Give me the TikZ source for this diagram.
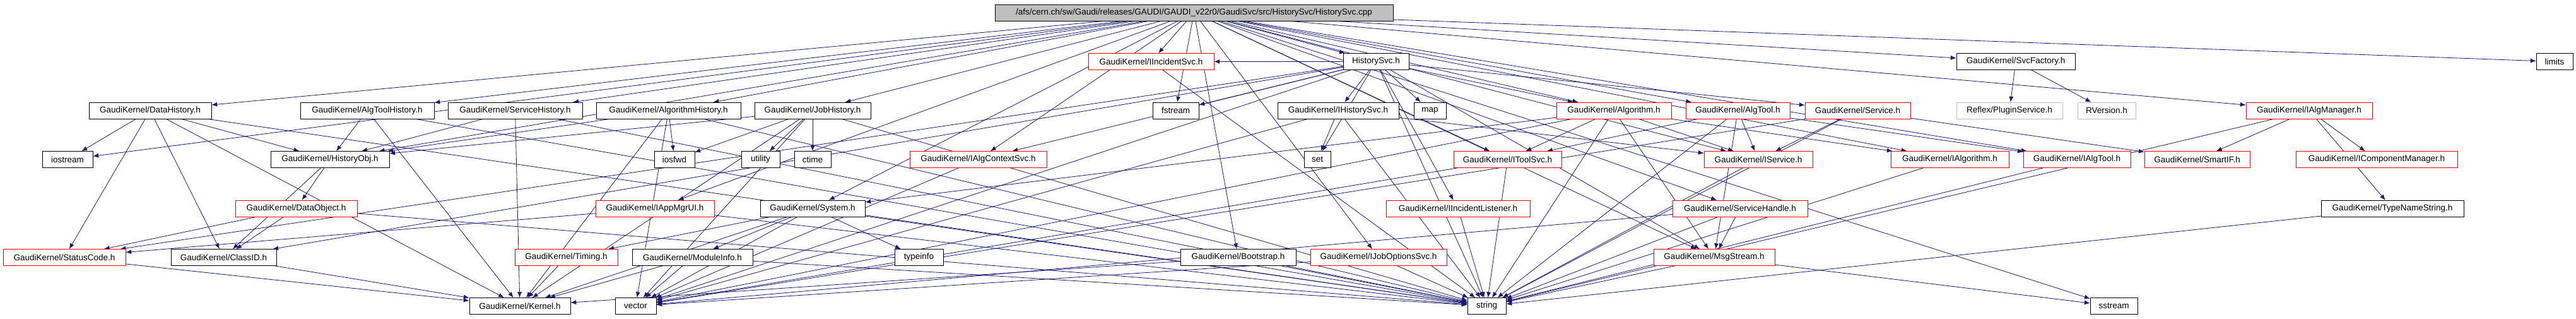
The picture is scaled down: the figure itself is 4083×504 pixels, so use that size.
\documentclass[tikz,border=0pt]{standalone}
\usepackage{fontspec}
\setmainfont{Liberation Sans}
\usetikzlibrary{arrows.meta}

\definecolor{edgeblue}{HTML}{191970}
\definecolor{rootgray}{HTML}{BFBFBF}
\pgfdeclarelayer{bg}
\pgfsetlayers{bg,main}

\tikzset{
  hdr/.style={draw=black,fill=white,rectangle,minimum height=26pt,inner xsep=3pt,inner ysep=0pt,font=\fontsize{13.5}{15}\selectfont},
  trunc/.style={hdr,draw=red},
  ext/.style={hdr,draw=rootgray},
  root/.style={hdr,fill=rootgray},
  dep/.style={draw=edgeblue,line width=0.8pt,->},
  >={Latex[length=9pt,width=7pt]}
}

\begin{document}
\begin{tikzpicture}[x=1pt,y=1pt]
                \useasboundingbox (0,0) rectangle (4083,504);
                % top
                \node[root,minimum width=631pt] (cpp) at (1892.5,484) {/afs/cern.ch/sw/Gaudi/releases/GAUDI/GAUDI\_v22r0/GaudiSvc/src/HistorySvc/HistorySvc.cpp};
                % second rank
                \node[trunc,minimum width=199pt] (iincsvc) at (1824.5,406.5) {GaudiKernel/IIncidentSvc.h};
                \node[hdr,minimum width=104pt] (hsvch) at (2181,406.5) {HistorySvc.h};
                \node[hdr,minimum width=188pt] (svcfac) at (3195,406.5) {GaudiKernel/SvcFactory.h};
                \node[hdr,minimum width=58pt] (limits) at (4049,406.5) {limits};
                % third rank
                \node[hdr,minimum width=194pt] (datahist) at (238,329) {GaudiKernel/DataHistory.h};
                \node[hdr,minimum width=212pt] (tlhist) at (582,329) {GaudiKernel/AlgToolHistory.h};
                \node[hdr,minimum width=213pt] (svchist) at (816.5,329) {GaudiKernel/ServiceHistory.h};
                \node[hdr,minimum width=229pt] (alghist) at (1059.5,329) {GaudiKernel/AlgorithmHistory.h};
                \node[hdr,minimum width=184pt] (jobhist) at (1288,329) {GaudiKernel/JobHistory.h};
                \node[hdr,minimum width=73pt] (fstream) at (1863.5,329) {fstream};
                \node[hdr,minimum width=192pt] (ihistsvc) at (2121,329) {GaudiKernel/IHistorySvc.h};
                \node[hdr,minimum width=51pt] (map) at (2266.5,329) {map};
                \node[trunc,minimum width=182pt] (algo) at (2558,329) {GaudiKernel/Algorithm.h};
                \node[trunc,minimum width=165pt] (algtool) at (2754.5,329) {GaudiKernel/AlgTool.h};
                \node[trunc,minimum width=167pt] (service) at (2944.5,329) {GaudiKernel/Service.h};
                \node[ext,minimum width=168pt] (plugin) at (3185,329) {Reflex/PluginService.h};
                \node[ext,minimum width=92pt] (rversion) at (3339,329) {RVersion.h};
                \node[trunc,minimum width=200pt] (ialgmgr) at (3660,329) {GaudiKernel/IAlgManager.h};
                % fourth rank
                \node[hdr,minimum width=80pt] (iostream) at (107,251.5) {iostream};
                \node[hdr,minimum width=188pt] (histobj) at (523,251.5) {GaudiKernel/HistoryObj.h};
                \node[hdr,minimum width=64pt] (iosfwd) at (1069,251.5) {iosfwd};
                \node[hdr,minimum width=61pt] (utility) at (1205.5,251.5) {utility};
                \node[hdr,minimum width=58pt] (ctime) at (1288,251.5) {ctime};
                \node[trunc,minimum width=217pt] (ialgctx) at (1550.5,251.5) {GaudiKernel/IAlgContextSvc.h};
                \node[hdr,minimum width=42pt] (set) at (2088,251.5) {set};
                \node[trunc,minimum width=171pt] (itoolsvc) at (2389.5,251.5) {GaudiKernel/IToolSvc.h};
                \node[trunc,minimum width=172pt] (iservice) at (2787,251.5) {GaudiKernel/IService.h};
                \node[trunc,minimum width=187pt] (ialgo) at (3090.5,251.5) {GaudiKernel/IAlgorithm.h};
                \node[trunc,minimum width=170pt] (ialgtool) at (3292,251.5) {GaudiKernel/IAlgTool.h};
                \node[trunc,minimum width=167pt] (smartif) at (3482.5,251.5) {GaudiKernel/SmartIF.h};
                \node[trunc,minimum width=256pt] (icompmgr) at (3767,251.5) {GaudiKernel/IComponentManager.h};
                % fifth rank
                \node[trunc,minimum width=193pt] (dataobj) at (469.5,174) {GaudiKernel/DataObject.h};
                \node[trunc,minimum width=188pt] (iappmgr) at (1038,174) {GaudiKernel/IAppMgrUI.h};
                \node[hdr,minimum width=166pt] (system) at (1288,174) {GaudiKernel/System.h};
                \node[trunc,minimum width=228pt] (iinclist) at (2311,174) {GaudiKernel/IIncidentListener.h};
                \node[trunc,minimum width=214pt] (svchandle) at (2758,174) {GaudiKernel/ServiceHandle.h};
                \node[hdr,minimum width=226pt] (tnstring) at (3792,174) {GaudiKernel/TypeNameString.h};
                % sixth rank
                \node[trunc,minimum width=194pt] (statcode) at (102,96.5) {GaudiKernel/StatusCode.h};
                \node[hdr,minimum width=167pt] (classid) at (354.5,96.5) {GaudiKernel/ClassID.h};
                \node[trunc,minimum width=163pt] (timing) at (897.5,96.5) {GaudiKernel/Timing.h};
                \node[hdr,minimum width=191pt] (modinfo) at (1097.5,96.5) {GaudiKernel/ModuleInfo.h};
                \node[hdr,minimum width=77pt] (typeinfo) at (1456.5,96.5) {typeinfo};
                \node[hdr,minimum width=183pt] (bootstrap) at (1962.5,96.5) {GaudiKernel/Bootstrap.h};
                \node[trunc,minimum width=216pt] (ijobopt) at (2185,96.5) {GaudiKernel/IJobOptionsSvc.h};
                \node[trunc,minimum width=192pt] (msgstream) at (2717,96.5) {GaudiKernel/MsgStream.h};
                % bottom rank
                \node[hdr,minimum width=160pt] (kernel) at (824,19.5) {GaudiKernel/Kernel.h};
                \node[hdr,minimum width=65pt] (vector) at (1007.5,19.5) {vector};
                \node[hdr,minimum width=61pt] (string) at (2356.5,19.5) {string};
                \node[hdr,minimum width=75pt] (sstream) at (3350.5,19.5) {sstream};

                \begin{pgfonlayer}{bg}
                % includes of the source file
                \foreach \t in {hsvch,datahist,tlhist,svchist,alghist,jobhist,histobj,iostream,fstream,limits,sstream,iincsvc,ialgctx,system,bootstrap,ijobopt,iappmgr,svchandle,ialgmgr,ialgo,algo,ialgtool,algtool,iservice,itoolsvc,svcfac,msgstream}
                    \draw[dep] (cpp) -- (\t);
                \foreach \t in {ihistsvc,map,set,iinclist,string,fstream,service,algo,ialgctx,classid,statcode,msgstream,vector,iincsvc}
                    \draw[dep] (hsvch) -- (\t);
                % history headers
                \foreach \t in {histobj,iostream,statcode,classid,kernel,string}
                    \draw[dep] (datahist) -- (\t);
                \foreach \t in {histobj,kernel,string}
                    \draw[dep] (tlhist) -- (\t);
                \foreach \t in {histobj,kernel,string}
                    \draw[dep] (svchist) -- (\t);
                \foreach \t in {histobj,iosfwd,kernel,vector,string}
                    \draw[dep] (alghist) -- (\t);
                \foreach \t in {histobj,iosfwd,utility,ctime,kernel,vector,string}
                    \draw[dep] (jobhist) -- (\t);
                \foreach \t in {dataobj,classid}
                    \draw[dep] (histobj) -- (\t);
                \foreach \t in {statcode,classid,string}
                    \draw[dep] (dataobj) -- (\t);
                \draw[dep] (statcode) -- (kernel);
                \draw[dep] (classid) -- (kernel);
                % interfaces and kernel
                \foreach \t in {statcode,string}
                    \draw[dep] (iappmgr) -- (\t);
                \foreach \t in {timing,modinfo,kernel,typeinfo,vector,string}
                    \draw[dep] (system) -- (\t);
                \draw[dep] (timing) -- (kernel);
                \foreach \t in {kernel,vector,string}
                    \draw[dep] (modinfo) -- (\t);
                \draw[dep] (ialgctx) -- (vector);
                \draw[dep] (iincsvc) -- (string);
                \foreach \t in {kernel,string}
                    \draw[dep] (bootstrap) -- (\t);
                \foreach \t in {string,vector}
                    \draw[dep] (ijobopt) -- (\t);
                \draw[dep] (iinclist) -- (string);
                \foreach \t in {string,vector}
                    \draw[dep] (itoolsvc) -- (\t);
                \foreach \t in {set,string,vector,iservice}
                    \draw[dep] (ihistsvc) -- (\t);
                \foreach \t in {itoolsvc,iservice,ialgo,msgstream,system,string,vector}
                    \draw[dep] (algo) -- (\t);
                \foreach \t in {ialgtool,iservice,itoolsvc,msgstream,string}
                    \draw[dep] (algtool) -- (\t);
                \foreach \t in {iservice,smartif,string,vector}
                    \draw[dep] (service) -- (\t);
                \foreach \t in {msgstream,string,vector}
                    \draw[dep] (svchandle) -- (\t);
                \foreach \t in {string,sstream}
                    \draw[dep] (msgstream) -- (\t);
                \draw[dep] (iservice) -- (string);
                \draw[dep] (ialgo) -- (string);
                \draw[dep] (ialgtool) -- (string);
                \foreach \t in {plugin,rversion}
                    \draw[dep] (svcfac) -- (\t);
                \foreach \t in {smartif,icompmgr,tnstring,string}
                    \draw[dep] (ialgmgr) -- (\t);
                \draw[dep] (tnstring) -- (string);
                \end{pgfonlayer}
            \end{tikzpicture}
\end{document}
